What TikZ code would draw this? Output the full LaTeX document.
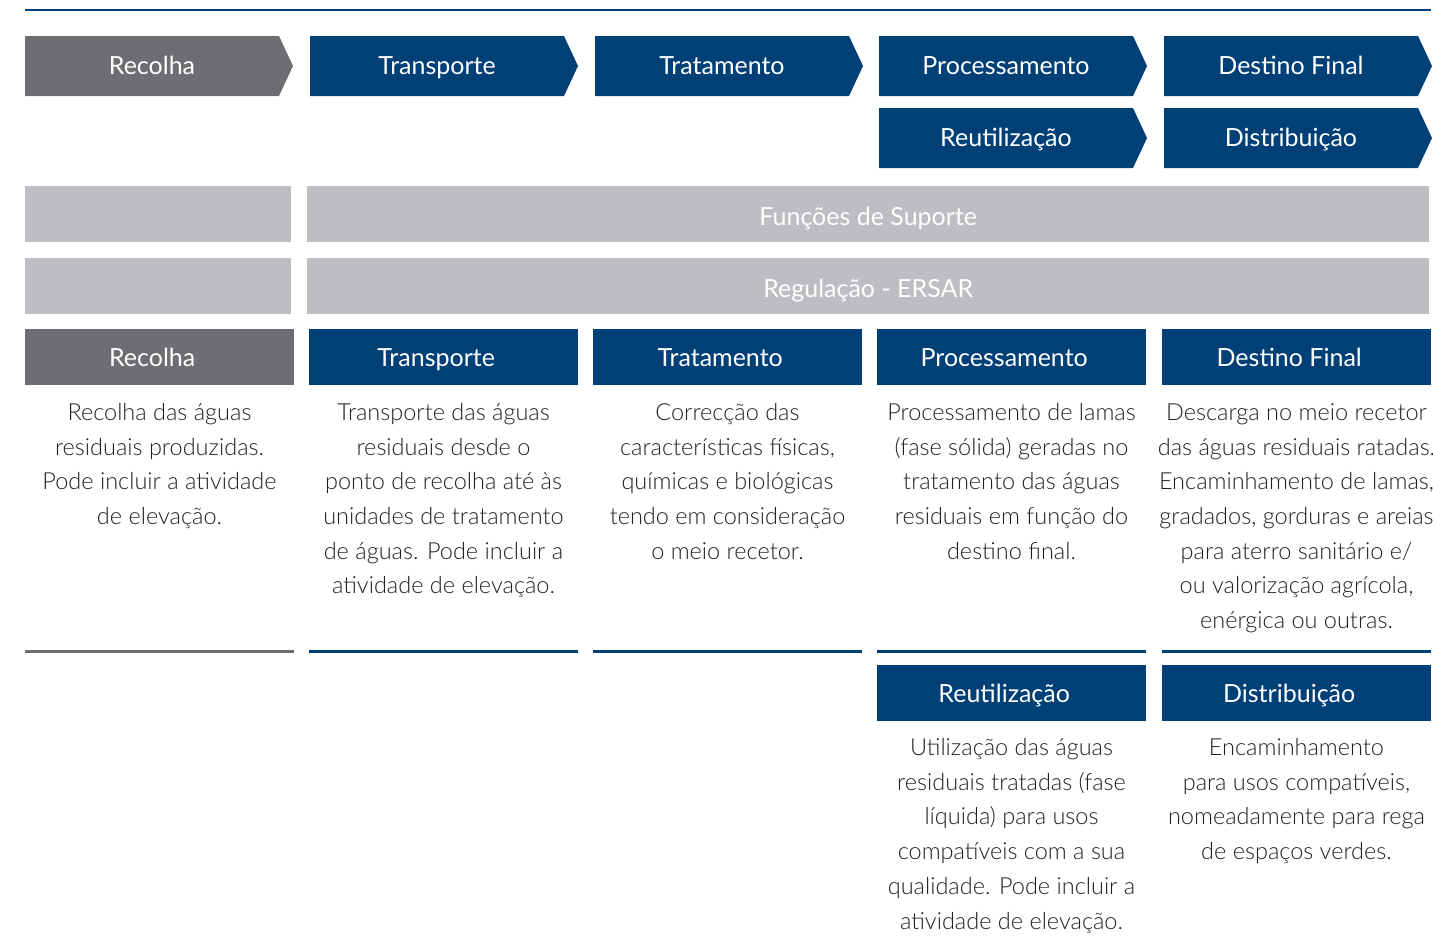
\documentclass[tikz,border=0pt]{standalone}
\usepackage{fontspec}
\setmainfont{Lato}
\newfontfamily\lightfont{Lato Light}
\definecolor{navy}{HTML}{004077}
\definecolor{dgray}{HTML}{6D6E71}
\definecolor{lgray}{HTML}{BCBEC1}
\definecolor{txt}{HTML}{231F20}
\tikzset{
  lbl/.style={text=white, inner sep=0, text height=18pt, text depth=0pt, font=\fontsize{25}{28}\selectfont},
  hdrbox/.style={fill=#1, anchor=north west, minimum width=269, minimum height=56, inner sep=0},
  barbox/.style={fill=lgray, anchor=north west, minimum height=56, inner sep=0},
  bodytext/.style={text=txt, anchor=north, align=center, inner sep=0, font=\lightfont\fontsize{23.5}{34.7}\selectfont},
  sepline/.style={draw=#1, line width=3pt},
}
\newcommand\chevshape[5]{%
  \fill[#4] (#2,#3) -- ++(254,0) -- ++(14,30) -- ++(-14,30) -- ++(-254,0) -- cycle;
  \node[lbl] (#1) at (#2+127,#3+29.5) {#5};}
\newcommand\hdr[5]{%
  \node[hdrbox=#4] (#1) at (#2,#3) {};
  \node[lbl] (#1t) at ([xshift=-7.5pt]#1.center) {#5};}
\begin{document}
\begin{tikzpicture}[x=1pt,y=-1pt]
\useasboundingbox (0,0) rectangle (1433,940);
% top rule
\coordinate (tl) at (25,10);
\coordinate (tr) at (1431,10);
\draw[navy, line width=2.5pt] (tl) -- (tr);
% chevrons
\chevshape{c1}{25}{36}{dgray}{Recolha}
\chevshape{c2}{310}{36}{navy}{Transporte}
\chevshape{c3}{595}{36}{navy}{Tratamento}
\chevshape{c4}{879}{36}{navy}{Processamento}
\chevshape{c5}{1164}{36}{navy}{Destino Final}
\chevshape{c6}{879}{108}{navy}{Reutilização}
\chevshape{c7}{1164}{108}{navy}{Distribuição}
% grey bars
\node[barbox, minimum width=266] (b1l) at (25,186) {};
\node[barbox, minimum width=1122] (b1) at (307,186) {};
\node[lbl] (b1t) at ([yshift=-2pt]b1.center) {Funções de Suporte};
\node[barbox, minimum width=266] (b2l) at (25,258) {};
\node[barbox, minimum width=1122] (b2) at (307,258) {};
\node[lbl] (b2t) at ([yshift=-2pt]b2.center) {Regulação - ERSAR};
% headers
\hdr{h1}{25}{329}{dgray}{Recolha}
\hdr{h2}{309}{329}{navy}{Transporte}
\hdr{h3}{593}{329}{navy}{Tratamento}
\hdr{h4}{877}{329}{navy}{Processamento}
\hdr{h5}{1162}{329}{navy}{Destino Final}
% body texts
\node[bodytext] (t1) at (159.5,396) {\strut Recolha das águas\\residuais produzidas.\\Pode incluir a atividade\\de elevação.};
\node[bodytext] (t2) at (443.5,396) {\strut Transporte das águas\\residuais desde o\\ponto de recolha até às\\unidades de tratamento\\de águas. Pode incluir a\\atividade de elevação.};
\node[bodytext] (t3) at (727.5,396) {\strut Correcção das\\características físicas,\\químicas e biológicas\\tendo em consideração\\o meio recetor.};
\node[bodytext] (t4) at (1011.5,396) {\strut Processamento de lamas\\(fase sólida) geradas no\\tratamento das águas\\residuais em função do\\destino final.};
\node[bodytext] (t5) at (1296.5,396) {\strut Descarga no meio recetor\\das águas residuais ratadas.\\Encaminhamento de lamas,\\gradados, gorduras e areias\\para aterro sanitário e/\\ou valorização agrícola,\\enérgica ou outras.};
% separators
\draw[sepline=dgray] (25,651) -- (294,651);
\draw[sepline=navy] (309,651) -- (578,651);
\draw[sepline=navy] (593,651) -- (862,651);
\draw[sepline=navy] (877,651) -- (1146,651);
\draw[sepline=navy] (1162,651) -- (1431,651);
% lower headers
\hdr{h6}{877}{665}{navy}{Reutilização}
\hdr{h7}{1162}{665}{navy}{Distribuição}
\node[bodytext] (t6) at (1011.5,731) {\strut Utilização das águas\\residuais tratadas (fase\\líquida) para usos\\compatíveis com a sua\\qualidade. Pode incluir a\\atividade de elevação.};
\node[bodytext] (t7) at (1296.5,731) {\strut Encaminhamento\\para usos compatíveis,\\nomeadamente para rega\\de espaços verdes.};
\end{tikzpicture}
\end{document}
